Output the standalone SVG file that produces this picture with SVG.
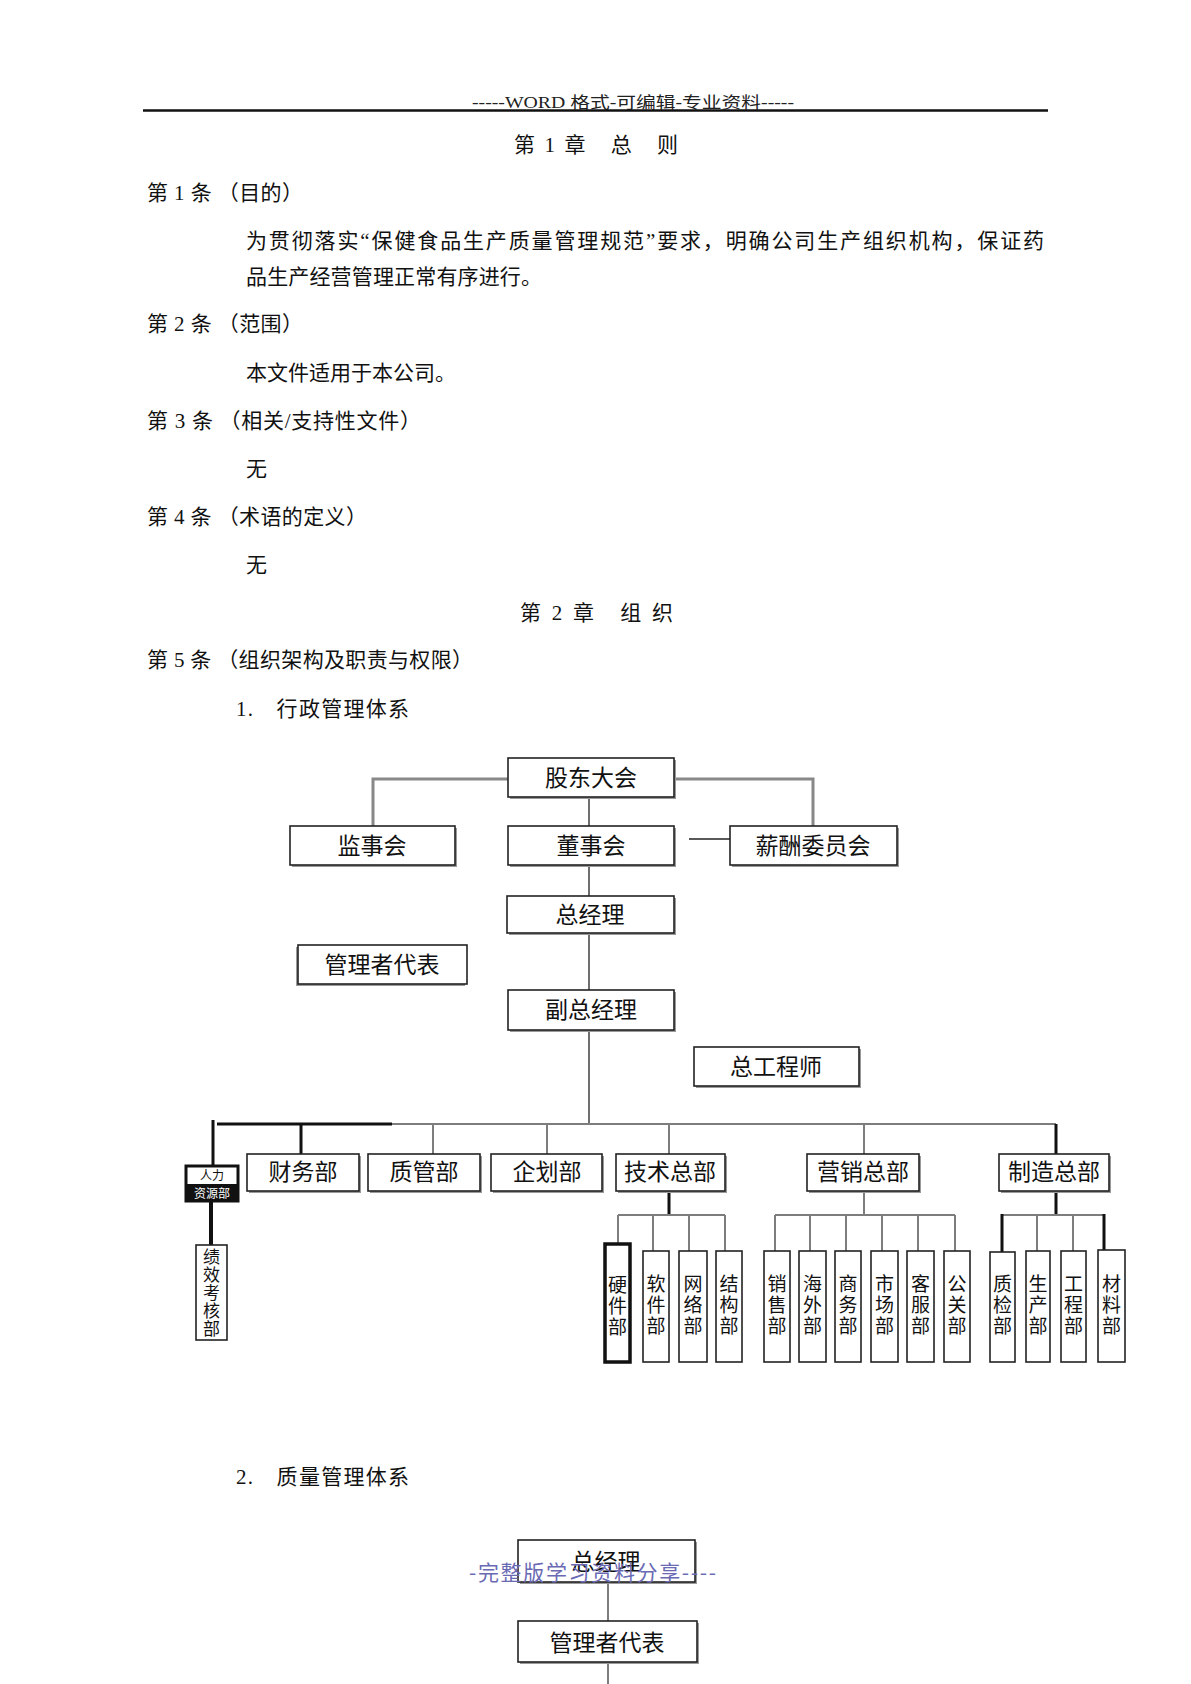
<svg xmlns="http://www.w3.org/2000/svg" width="1191" height="1684" viewBox="0 0 1191 1684">
<style>
.body{font-family:"Liberation Serif","Noto Sans CJK SC",serif;font-size:21px;fill:#111}
.hdr{font-family:"Liberation Serif","Noto Sans CJK SC",serif;font-size:16px;fill:#222}
.box{fill:#fff;stroke:#222;stroke-width:1.6}
.sh{fill:#9a9a9a}
.lbl{font-family:"Noto Sans CJK SC","Noto Sans",sans-serif;font-size:23px;fill:#111;text-anchor:middle}
.vl{font-family:"Noto Sans CJK SC","Noto Sans",sans-serif;font-size:19px;fill:#111;text-anchor:middle;writing-mode:vertical-rl;text-orientation:upright;letter-spacing:2px}
.gray{stroke:#7d7d7d;stroke-width:2;fill:none}
.grayw{stroke:#888;stroke-width:3;fill:none}
.thin{stroke:#222;stroke-width:1.3;fill:none}
.blk{stroke:#111;stroke-width:3;fill:none}
.blkw{stroke:#111;stroke-width:4;fill:none}
.foot{font-family:"Noto Sans CJK SC","Noto Sans",sans-serif;font-size:21px;fill:#6a6ab4}
</style>
<rect width="1191" height="1684" fill="#fff"/>

<!-- page text -->
<text class="hdr" x="472" y="108" textLength="322" lengthAdjust="spacingAndGlyphs">-----WORD 格式-可编辑-专业资料-----</text>
<line x1="143" y1="110.5" x2="1048" y2="110.5" stroke="#111" stroke-width="2.5"/>
<text class="body" x="514" y="152" textLength="164" lengthAdjust="spacing">第 1 章　总　则</text>
<text class="body" x="147" y="200" textLength="156" lengthAdjust="spacing">第 1 条 （目的）</text>
<text class="body" x="246" y="248" textLength="798" lengthAdjust="spacing">为贯彻落实“保健食品生产质量管理规范”要求，明确公司生产组织机构，保证药</text>
<text class="body" x="246" y="284" textLength="296" lengthAdjust="spacing">品生产经营管理正常有序进行。</text>
<text class="body" x="147" y="331" textLength="156" lengthAdjust="spacing">第 2 条 （范围）</text>
<text class="body" x="246" y="380" textLength="210" lengthAdjust="spacing">本文件适用于本公司。</text>
<text class="body" x="147" y="428" textLength="274" lengthAdjust="spacing">第 3 条 （相关/支持性文件）</text>
<text class="body" x="246" y="476">无</text>
<text class="body" x="147" y="524" textLength="220" lengthAdjust="spacing">第 4 条 （术语的定义）</text>
<text class="body" x="246" y="572">无</text>
<text class="body" x="520" y="620" textLength="153" lengthAdjust="spacing">第 2 章　组 织</text>
<text class="body" x="147" y="667" textLength="326" lengthAdjust="spacing">第 5 条 （组织架构及职责与权限）</text>
<text class="body" x="236" y="716" textLength="173" lengthAdjust="spacing">1.　行政管理体系</text>
<text class="body" x="236" y="1484" textLength="173" lengthAdjust="spacing">2.　质量管理体系</text>

<!-- connectors -->
<g id="connectors">
  <path class="grayw" d="M508,779 H373 V826"/>
  <path class="grayw" d="M674,779 H813 V826"/>
  <path class="thin" d="M689,839 H730"/>
  <path class="thin" d="M589,797 V826 M589,865 V896 M589,933 V990 M589,1030 V1124"/>
  <path class="gray" d="M392,1124 H1056"/>
  <path class="blk" d="M217,1124 H392"/>
  <path class="blk" d="M213,1120 V1166"/>
  <path class="blk" d="M301,1124 V1154"/>
  <path class="gray" d="M433,1124 V1154 M547,1124 V1154 M669,1124 V1154 M864,1124 V1154"/>
  <path class="blk" d="M1056,1124 V1154"/>
  <path class="blkw" d="M211,1201 V1245"/>
  <path class="blk" d="M669,1191 V1215"/>
  <path class="gray" d="M618,1215 H725 M618,1215 V1244 M653,1215 V1251 M689,1215 V1251 M725,1215 V1251"/>
  <path class="gray" d="M864,1191 V1215 M775,1215 H955 M775,1215 V1251 M810,1215 V1251 M846,1215 V1251 M882,1215 V1251 M918,1215 V1251 M955,1215 V1251"/>
  <path class="blk" d="M1056,1191 V1215"/>
  <path class="gray" d="M1002,1215 H1104 M1037,1215 V1251 M1073,1215 V1251"/>
  <path class="blk" d="M1002,1214 V1252 M1104,1214 V1250"/>
  <path class="gray" d="M608,1582 V1621 M608,1662 V1684"/>
</g>

<!-- nodes -->
<g id="n-gudong"><rect class="sh" x="510" y="760" width="166" height="39"/><rect class="box" x="508" y="758" width="166" height="39"/><text class="lbl" x="591" y="786">股东大会</text></g>
<g id="n-jianshi"><rect class="sh" x="292" y="828" width="165" height="39"/><rect class="box" x="290" y="826" width="165" height="39"/><text class="lbl" x="372" y="854">监事会</text></g>
<g id="n-dongshi"><rect class="sh" x="510" y="828" width="166" height="39"/><rect class="box" x="508" y="826" width="166" height="39"/><text class="lbl" x="591" y="854">董事会</text></g>
<g id="n-xinchou"><rect class="sh" x="732" y="828" width="167" height="39"/><rect class="box" x="730" y="826" width="167" height="39"/><text class="lbl" x="813" y="854">薪酬委员会</text></g>
<g id="n-zongjingli"><rect class="sh" x="509" y="898" width="167" height="37"/><rect class="box" x="507" y="896" width="167" height="37"/><text class="lbl" x="590" y="923">总经理</text></g>
<g id="n-guanli"><rect class="sh" x="296" y="947" width="169" height="39"/><rect class="box" x="298" y="945" width="169" height="39"/><text class="lbl" x="382" y="973">管理者代表</text></g>
<g id="n-fuzong"><rect class="sh" x="510" y="992" width="166" height="40"/><rect class="box" x="508" y="990" width="166" height="40"/><text class="lbl" x="591" y="1018">副总经理</text></g>
<g id="n-zonggong"><rect class="sh" x="696" y="1049" width="165" height="39"/><rect class="box" x="694" y="1047" width="165" height="39"/><text class="lbl" x="776" y="1075">总工程师</text></g>

<g id="n-renli">
  <rect x="186" y="1166" width="52" height="35" fill="#fff" stroke="#111" stroke-width="3"/>
  <rect x="186" y="1184" width="52" height="17" fill="#111"/>
  <text x="212" y="1180" font-family="Noto Sans CJK SC,sans-serif" font-size="12" fill="#111" text-anchor="middle">人力</text>
  <text x="212" y="1197.5" font-family="Noto Sans CJK SC,sans-serif" font-size="12" fill="#fff" text-anchor="middle">资源部</text>
</g>
<g id="n-caiwu"><rect class="sh" x="249" y="1156" width="112" height="37"/><rect class="box" x="247" y="1154" width="112" height="37"/><text class="lbl" x="303" y="1180">财务部</text></g>
<g id="n-zhiguan"><rect class="sh" x="370" y="1156" width="112" height="37"/><rect class="box" x="368" y="1154" width="112" height="37"/><text class="lbl" x="424" y="1180">质管部</text></g>
<g id="n-qihua"><rect class="sh" x="493" y="1156" width="111" height="37"/><rect class="box" x="491" y="1154" width="111" height="37"/><text class="lbl" x="547" y="1180">企划部</text></g>
<g id="n-jishu"><rect class="sh" x="618" y="1156" width="109" height="37"/><rect class="box" x="616" y="1154" width="109" height="37"/><text class="lbl" x="670" y="1180">技术总部</text></g>
<g id="n-yingxiao"><rect class="sh" x="809" y="1156" width="112" height="37"/><rect class="box" x="807" y="1154" width="112" height="37"/><text class="lbl" x="863" y="1180">营销总部</text></g>
<g id="n-zhizao"><rect class="sh" x="1001" y="1156" width="110" height="37"/><rect class="box" x="999" y="1154" width="110" height="37"/><text class="lbl" x="1054" y="1180">制造总部</text></g>

<g id="n-jixiao"><rect class="box" x="196" y="1245" width="31" height="95"/>
  <text class="vl" x="211.5" y="1293" style="font-size:17px;letter-spacing:1px">绩效考核部</text></g>

<g id="n-yingjian"><rect x="605" y="1244" width="25" height="118" fill="#fff" stroke="#111" stroke-width="3.5"/>
  <text class="vl" x="617.5" y="1307">硬件部</text></g>
<g id="n-ruanjian"><rect class="box" x="643" y="1251" width="26" height="111"/><text class="vl" x="656" y="1306">软件部</text></g>
<g id="n-wangluo"><rect class="box" x="679" y="1251" width="28" height="111"/><text class="vl" x="693" y="1306">网络部</text></g>
<g id="n-jiegou"><rect class="box" x="716" y="1251" width="26" height="111"/><text class="vl" x="729" y="1306">结构部</text></g>

<g id="n-xiaoshou"><rect class="box" x="764" y="1251" width="26" height="111"/><text class="vl" x="777" y="1306">销售部</text></g>
<g id="n-haiwai"><rect class="box" x="799" y="1251" width="27" height="111"/><text class="vl" x="812.5" y="1306">海外部</text></g>
<g id="n-shangwu"><rect class="box" x="835" y="1251" width="26" height="111"/><text class="vl" x="848" y="1306">商务部</text></g>
<g id="n-shichang"><rect class="box" x="871" y="1251" width="27" height="111"/><text class="vl" x="884.5" y="1306">市场部</text></g>
<g id="n-kefu"><rect class="box" x="907" y="1251" width="27" height="111"/><text class="vl" x="920.5" y="1306">客服部</text></g>
<g id="n-gongguan"><rect class="box" x="944" y="1251" width="26" height="111"/><text class="vl" x="957" y="1306">公关部</text></g>

<g id="n-zhijian"><rect class="box" x="990" y="1252" width="25" height="110"/><text class="vl" x="1002.5" y="1306">质检部</text></g>
<g id="n-shengchan"><rect class="box" x="1026" y="1251" width="24" height="111"/><text class="vl" x="1038" y="1306">生产部</text></g>
<g id="n-gongcheng"><rect class="box" x="1061" y="1251" width="25" height="111"/><text class="vl" x="1073.5" y="1306">工程部</text></g>
<g id="n-cailiao"><rect class="box" x="1098" y="1250" width="27" height="112"/><text class="vl" x="1111.5" y="1306">材料部</text></g>

<!-- quality system -->
<g id="q-zongjingli"><rect class="sh" x="520" y="1542" width="177" height="42"/><rect class="box" x="518" y="1540" width="177" height="42"/><text class="lbl" x="606" y="1570" font-size="25">总经理</text></g>
<g id="q-guanli"><rect class="sh" x="520" y="1623" width="179" height="41"/><rect class="box" x="518" y="1621" width="179" height="41"/><text class="lbl" x="607" y="1651" font-size="25">管理者代表</text></g>

<text class="foot" x="469" y="1580" textLength="247" lengthAdjust="spacing">-完整版学习资料分享----</text>
</svg>
